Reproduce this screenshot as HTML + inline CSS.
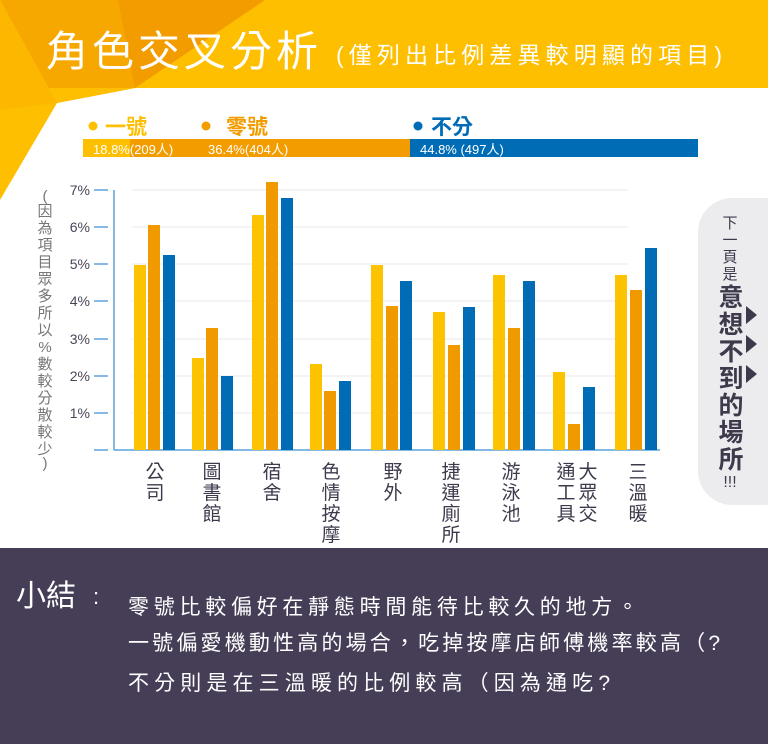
<!DOCTYPE html>
<html><head><meta charset="utf-8"><style>
html,body{margin:0;padding:0;background:#fff}
svg{display:block}
text{font-family:"Liberation Sans","Noto Sans CJK TC",sans-serif}
</style></head><body>
<svg width="768" height="744" viewBox="0 0 768 744" xmlns="http://www.w3.org/2000/svg">
<rect width="768" height="744" fill="#fff"/>
<rect x="0" y="0" width="768" height="88" fill="#fdbf00"/>
<polygon points="0,0 265,0 135,88 57,103" fill="#f7a800"/>
<polygon points="118,0 265,0 135,88" fill="#f39c00"/>
<polygon points="0,88 57,103 0,200" fill="#fdbf00"/>
<polygon points="57,103 135,88 0,88" fill="#fdbf00"/>
<polygon points="0,0 57,103 0,110" fill="#fcb800"/>
<text x="46" y="66" font-size="42" fill="#fff" textLength="272" lengthAdjust="spacing">角色交叉分析</text>
<text x="336" y="63" font-size="23" fill="#fff" textLength="386" lengthAdjust="spacing">(僅列出比例差異較明顯的項目)</text>
<circle cx="93" cy="126" r="4.5" fill="#fdbf00"/>
<text x="105" y="134" font-size="21" fill="#fdbf00" font-weight="bold">一號</text>
<circle cx="206" cy="126" r="4.5" fill="#f39c00"/>
<text x="226" y="134" font-size="21" fill="#f39c00" font-weight="bold">零號</text>
<circle cx="418" cy="126" r="4.5" fill="#006cb5"/>
<text x="431" y="134" font-size="21" fill="#006cb5" font-weight="bold">不分</text>
<rect x="83" y="139" width="47" height="18" fill="#fdbf00"/>
<rect x="126" y="139" width="75" height="18" fill="#fdbf00"/>
<rect x="130" y="139" width="149" height="18" fill="#f39c00"/>
<rect x="279" y="139" width="140" height="18" fill="#f39c00"/>
<rect x="410" y="139" width="288" height="18" fill="#006cb5"/>
<text x="93" y="154" font-size="13" fill="#fff">18.8%(209人)</text>
<text x="208" y="154" font-size="13" fill="#fff">36.4%(404人)</text>
<text x="420" y="154" font-size="13" fill="#fff">44.8%    (497人)</text>
<g stroke="#e8e8ec" stroke-width="1">
<line x1="132" y1="190" x2="628" y2="190"/><line x1="132" y1="227" x2="628" y2="227"/>
<line x1="132" y1="264" x2="628" y2="264"/><line x1="132" y1="301" x2="628" y2="301"/>
<line x1="132" y1="339" x2="628" y2="339"/><line x1="132" y1="376" x2="628" y2="376"/>
<line x1="132" y1="413" x2="628" y2="413"/>
</g>
<g stroke="#5aa3dc" stroke-width="1.5">
<line x1="94" y1="190" x2="108" y2="190"/><line x1="94" y1="227" x2="108" y2="227"/>
<line x1="94" y1="264" x2="108" y2="264"/><line x1="94" y1="301" x2="108" y2="301"/>
<line x1="94" y1="339" x2="108" y2="339"/><line x1="94" y1="376" x2="108" y2="376"/>
<line x1="94" y1="413" x2="108" y2="413"/><line x1="94" y1="450" x2="108" y2="450"/>
<line x1="114" y1="190" x2="114" y2="450"/>
<line x1="114" y1="450" x2="660" y2="450"/>
</g>
<g font-size="14" fill="#4a4458" text-anchor="end">
<text x="90" y="195">7%</text><text x="90" y="232">6%</text><text x="90" y="269">5%</text>
<text x="90" y="306">4%</text><text x="90" y="344">3%</text><text x="90" y="381">2%</text>
<text x="90" y="418">1%</text>
</g>
<g font-size="15" fill="#777" text-anchor="middle">
<text x="45" y="201">(</text>
<text x="45" y="216">因</text><text x="45" y="233">為</text><text x="45" y="250">項</text>
<text x="45" y="267">目</text><text x="45" y="284">眾</text><text x="45" y="301">多</text>
<text x="45" y="318">所</text><text x="45" y="335">以</text><text x="45" y="352">%</text>
<text x="45" y="369">數</text><text x="45" y="386">較</text><text x="45" y="403">分</text>
<text x="45" y="420">散</text><text x="45" y="437">較</text><text x="45" y="454">少</text>
<text x="45" y="468">)</text>
</g>
<g fill="#fdc300">
<rect x="134" y="265" width="12" height="185"/><rect x="192" y="358" width="12" height="92"/>
<rect x="252" y="215" width="12" height="235"/><rect x="310" y="364" width="12" height="86"/>
<rect x="371" y="265" width="12" height="185"/><rect x="433" y="312" width="12" height="138"/>
<rect x="493" y="275" width="12" height="175"/><rect x="553" y="372" width="12" height="78"/>
<rect x="615" y="275" width="12" height="175"/>
</g>
<g fill="#f19a00">
<rect x="148" y="225" width="12" height="225"/><rect x="206" y="328" width="12" height="122"/>
<rect x="266" y="182" width="12" height="268"/><rect x="324" y="391" width="12" height="59"/>
<rect x="386" y="306" width="12" height="144"/><rect x="448" y="345" width="12" height="105"/>
<rect x="508" y="328" width="12" height="122"/><rect x="568" y="424" width="12" height="26"/>
<rect x="630" y="290" width="12" height="160"/>
</g>
<g fill="#006cb5">
<rect x="163" y="255" width="12" height="195"/><rect x="221" y="376" width="12" height="74"/>
<rect x="281" y="198" width="12" height="252"/><rect x="339" y="381" width="12" height="69"/>
<rect x="400" y="281" width="12" height="169"/><rect x="463" y="307" width="12" height="143"/>
<rect x="523" y="281" width="12" height="169"/><rect x="583" y="387" width="12" height="63"/>
<rect x="645" y="248" width="12" height="202"/>
</g>
<g font-size="19" fill="#3e3a4c" text-anchor="middle">
<text x="155" y="478">公</text><text x="155" y="499">司</text>
<text x="212" y="478">圖</text><text x="212" y="499">書</text><text x="212" y="520">館</text>
<text x="272" y="478">宿</text><text x="272" y="499">舍</text>
<text x="331" y="478">色</text><text x="331" y="499">情</text><text x="331" y="520">按</text><text x="331" y="541">摩</text>
<text x="393" y="478">野</text><text x="393" y="499">外</text>
<text x="451" y="478">捷</text><text x="451" y="499">運</text><text x="451" y="520">廁</text><text x="451" y="541">所</text>
<text x="511" y="478">游</text><text x="511" y="499">泳</text><text x="511" y="520">池</text>
<text x="566" y="478">通</text><text x="566" y="499">工</text><text x="566" y="520">具</text>
<text x="588" y="478">大</text><text x="588" y="499">眾</text><text x="588" y="520">交</text>
<text x="638" y="478">三</text><text x="638" y="499">溫</text><text x="638" y="520">暖</text>
</g>
<rect x="698" y="198" width="100" height="307" rx="34" fill="#ececee"/>
<g fill="#3e3a4c" text-anchor="middle">
<text x="730" y="228" font-size="15">下</text><text x="730" y="245" font-size="15">一</text>
<text x="730" y="262" font-size="15">頁</text><text x="730" y="279" font-size="15">是</text>
<g font-size="25" font-weight="bold">
<text x="731" y="306">意</text><text x="731" y="333">想</text><text x="731" y="360">不</text>
<text x="731" y="387">到</text><text x="731" y="414">的</text><text x="731" y="441">場</text>
<text x="731" y="468">所</text></g>
<text x="730" y="487" font-size="16">!!!</text>
</g>
<g fill="#3e3a4c">
<polygon points="746,306 746,324 757,315"/>
<polygon points="746,335 746,353 757,344"/>
<polygon points="746,365 746,383 757,374"/>
</g>
<rect x="0" y="548" width="768" height="196" fill="#463e57"/>
<text x="16" y="606" font-size="30" fill="#fff">小結</text>
<text x="93" y="604" font-size="22" fill="#fff">:</text>
<g font-size="21" fill="#fff">
<text x="128" y="614" textLength="510" lengthAdjust="spacing">零號比較偏好在靜態時間能待比較久的地方。</text>
<text x="128" y="650" textLength="592" lengthAdjust="spacing">一號偏愛機動性高的場合，吃掉按摩店師傅機率較高（?</text>
<text x="128" y="690" textLength="482" lengthAdjust="spacing">不分則是在三溫暖的比例較高（因為通吃?</text>
</g>
</svg>
</body></html>
